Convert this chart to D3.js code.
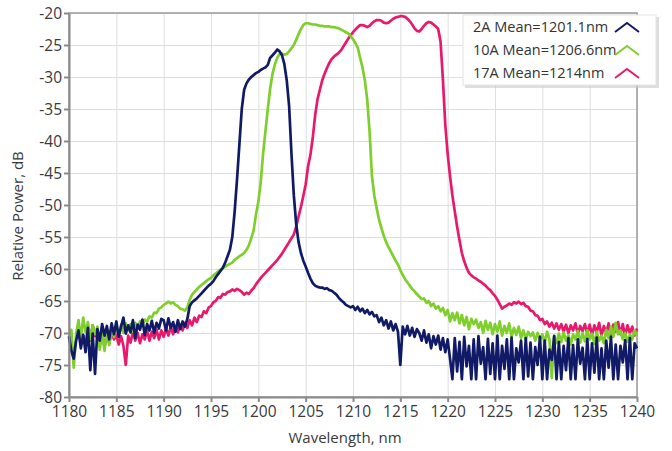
<!DOCTYPE html>
<html>
<head>
<meta charset="utf-8">
<script src="https://cdn.jsdelivr.net/npm/d3@7"></script>
<style>
  html, body { margin: 0; padding: 0; background: #fff; overflow: hidden; }
  svg { display: block; font-family: "Open Sans", "Noto Sans", sans-serif; }
  .grid line { stroke: #dedede; stroke-width: 1; }
  .grid .domain { display: none; }
  .axis .domain, .axis line { stroke: #8a8a8a; stroke-width: 2; }
  .axis text { fill: #3a3a3a; font-size: 15.5px; font-family: "Open Sans", "Noto Sans", sans-serif; }
  .axis-title { fill: #3a3a3a; font-size: 15px; }
  .legend text { fill: #333; font-size: 14.5px; }
</style>
</head>
<body>
<div id="chart"></div>
<script>
// sampled every 0.25 nm from 1180 nm
const START_NM = 1180;
const STEP_NM = 0.25;

const xTicks = [1180, 1185, 1190, 1195, 1200, 1205, 1210, 1215, 1220, 1225, 1230, 1235, 1240];
const yTicks = [-20, -25, -30, -35, -40, -45, -50, -55, -60, -65, -70, -75, -80];

const seriesNames = ["2A Mean=1201.1nm", "10A Mean=1206.6nm", "17A Mean=1214nm"];
const seriesColors = ["#111a66", "#7fcf2c", "#e8196c"];

const power2A = [
  -70.5, -72.8, -74.0, -71.2, -69.6, -72.4, -70.3, -73.0, -69.2, -75.8, -70.1, -76.4, -69.4, -71.2, -68.6, -70.4, -68.9, -71.0, -68.5, -70.2,
  -68.2, -70.6, -69.0, -67.6, -70.1, -68.8, -69.9, -68.0, -70.8, -68.7, -69.5, -67.9, -70.3, -68.6, -69.6, -68.1, -70.0, -68.4, -69.3, -67.8,
  -68.0, -69.6, -67.7, -69.2, -68.3, -69.8, -68.0, -69.4, -68.2, -69.0, -67.8, -65.8, -65.2, -64.9, -64.6, -64.2, -63.8, -63.4, -63.0, -62.6,
  -62.3, -61.9, -61.3, -60.8, -60.3, -59.8, -59.0, -58.0, -57.0, -55.0, -51.0, -46.0, -40.5, -35.0, -32.0, -31.0, -30.4, -30.0, -29.7, -29.4,
  -29.2, -28.9, -28.7, -28.5, -28.1, -27.0, -26.6, -26.2, -25.7, -26.0, -26.6, -28.0, -30.5, -34.5, -42.0, -48.5, -53.0, -55.8, -57.5, -58.7,
  -59.6, -60.6, -61.5, -62.2, -62.6, -62.8, -62.9, -62.9, -63.1, -63.0, -63.3, -63.4, -63.7, -64.0, -64.5, -64.9, -65.2, -65.6, -65.8, -66.0,
  -65.8, -66.4, -65.9, -66.6, -66.2, -66.9, -66.4, -67.1, -66.7, -67.4, -67.2, -68.3, -67.6, -68.8, -68.0, -69.3, -68.2, -69.6, -68.6, -69.8,
  -75.0, -69.0, -70.2, -68.9, -70.4, -69.2, -70.6, -69.4, -70.0, -71.2, -69.6, -71.5, -70.2, -72.4, -70.5, -71.8, -70.4, -72.6, -70.8, -73.0,
  -71.0, -74.0, -77.2, -70.8, -76.0, -71.4, -77.2, -70.6, -75.2, -72.0, -77.2, -71.0, -77.2, -70.5, -74.8, -72.2, -77.2, -70.9, -76.4, -71.6,
  -77.2, -70.4, -77.2, -72.0, -75.6, -71.0, -77.2, -70.7, -77.2, -72.4, -74.6, -71.2, -77.2, -70.8, -76.8, -71.5, -77.2, -72.2, -75.0, -70.6,
  -77.2, -71.2, -77.2, -72.6, -74.2, -70.5, -77.2, -71.4, -77.2, -72.0, -75.8, -70.8, -77.2, -71.9, -77.2, -71.0, -74.8, -72.3, -77.2, -70.9,
  -77.2, -71.6, -76.2, -70.7, -77.2, -72.4, -77.2, -71.2, -75.4, -70.6, -77.2, -71.8, -77.2, -72.0, -74.6, -71.1, -77.2, -70.8, -77.2, -71.6,
  -72.4
];

const power10A = [
  -71.0, -69.5, -75.4, -70.2, -68.0, -70.8, -67.6, -69.9, -68.3, -71.0, -68.8, -70.2, -69.0, -72.6, -70.0, -72.8, -69.6, -71.9, -69.2, -70.6,
  -69.0, -70.4, -68.7, -70.0, -68.5, -69.6, -68.6, -69.8, -68.4, -69.3, -68.2, -68.9, -67.9, -68.2, -67.4, -67.6, -66.8, -66.9, -66.2, -66.0,
  -65.6, -65.4, -65.1, -65.4, -65.2, -65.6, -65.8, -66.2, -66.3, -66.5, -66.0, -64.8, -64.0, -63.6, -63.2, -62.8, -62.5, -62.2, -61.9, -61.6,
  -61.4, -61.0, -60.7, -60.4, -60.1, -59.9, -59.6, -59.4, -59.2, -59.0, -58.6, -58.3, -58.0, -57.8, -57.5, -57.0, -56.3, -55.2, -54.0, -51.5,
  -49.5, -46.5, -42.0, -38.5, -35.0, -31.8, -29.5, -28.0, -27.0, -26.4, -26.3, -26.5, -26.4, -26.0, -25.5, -25.0, -24.2, -23.3, -22.5, -21.9,
  -21.6, -21.6, -21.7, -21.8, -21.8, -21.9, -22.0, -22.0, -22.1, -22.1, -22.1, -22.2, -22.2, -22.3, -22.4, -22.6, -22.8, -23.0, -23.2, -23.6,
  -24.1, -24.7, -25.4, -27.0, -28.5, -30.5, -33.5, -38.5, -45.5, -48.5, -50.5, -52.3, -53.6, -54.8, -55.8, -56.6, -57.3, -58.0, -58.7, -59.3,
  -60.2, -60.9, -61.6, -62.1, -62.6, -63.1, -63.5, -63.9, -64.3, -64.7, -64.6, -65.3, -65.0, -65.8, -65.4, -66.2, -65.8, -66.6, -66.1, -67.2,
  -66.4, -68.2, -66.9, -68.0, -66.8, -68.5, -67.2, -68.8, -67.5, -69.4, -67.8, -68.6, -67.9, -69.2, -68.3, -70.0, -68.1, -69.5, -68.4, -70.2,
  -68.6, -69.8, -68.2, -70.4, -68.9, -70.0, -68.5, -70.6, -69.2, -70.3, -69.0, -70.8, -69.6, -71.0, -69.8, -70.5, -69.9, -71.2, -70.0, -71.0,
  -70.2, -71.5, -69.8, -71.0, -77.0, -70.4, -71.6, -70.1, -71.4, -69.9, -71.2, -70.3, -71.8, -70.2, -71.0, -69.7, -71.5, -70.0, -71.3, -69.6,
  -71.0, -70.1, -71.7, -69.8, -71.2, -70.4, -71.6, -69.5, -70.8, -69.0, -70.6, -68.4, -70.2, -69.6, -71.0, -70.0, -71.4, -70.2, -71.0, -69.6,
  -70.4
];

const power17A = [
  null, null, null, null, null, null, -70.4, -72.0, -69.0, -71.2, -68.8, -70.5, -69.5, -71.8, -70.0, -72.2, -70.2, -71.6, -69.8, -71.0,
  -70.3, -71.8, -70.5, -72.0, -75.0, -70.4, -71.5, -69.8, -71.2, -70.0, -71.6, -70.2, -71.0, -69.6, -71.2, -69.8, -70.8, -69.5, -71.0, -69.6,
  -70.6, -69.3, -70.4, -69.0, -70.2, -68.9, -69.9, -68.7, -69.6, -68.4, -69.2, -68.0, -68.8, -67.6, -68.3, -67.3, -67.5, -66.6, -66.9, -66.0,
  -65.8, -65.2, -65.0, -64.4, -64.5, -63.9, -64.0, -63.6, -63.5, -63.2, -63.4, -63.1, -63.3, -63.6, -64.0, -63.7, -63.9, -63.4, -63.0, -62.4,
  -61.9, -61.4, -61.0, -60.6, -60.2, -59.8, -59.4, -59.0, -58.6, -58.1, -57.6, -57.0, -56.4, -55.8, -55.2, -54.6, -53.4, -51.8, -50.3, -48.6,
  -46.8, -44.0, -42.2, -39.5, -36.0, -33.5, -32.0, -30.5, -29.5, -28.6, -27.8, -27.2, -26.8, -26.5, -26.2, -25.8, -25.2, -24.6, -24.0, -23.5,
  -23.0, -22.6, -22.2, -21.9, -21.9, -22.0, -22.2, -22.0, -21.6, -21.3, -21.1, -21.1, -21.2, -21.5, -21.6, -21.5, -21.2, -20.9, -20.7, -20.6,
  -20.5, -20.5, -20.6, -20.9, -21.3, -21.8, -22.4, -22.8, -22.9, -22.5, -22.0, -21.6, -21.4, -21.5, -21.8, -22.1, -22.5, -24.5, -30.5, -37.5,
  -42.0, -45.5, -48.5, -51.0, -53.4, -55.5, -57.5, -58.8, -59.8, -60.6, -61.0, -61.3, -61.5, -61.8, -62.0, -62.3, -62.6, -63.0, -63.3, -63.8,
  -64.2, -64.8, -65.5, -66.2, -65.9, -65.7, -65.4, -65.6, -65.2, -65.4, -65.1, -65.5, -65.3, -65.8, -65.9, -66.5, -66.6, -67.2, -67.3, -68.0,
  -67.8, -68.6, -68.2, -69.0, -68.4, -69.3, -68.5, -69.5, -68.6, -69.8, -68.7, -70.0, -68.8, -69.6, -68.5, -70.2, -68.9, -69.7, -68.6, -70.1,
  -68.7, -70.3, -68.8, -69.9, -68.4, -70.4, -68.9, -70.0, -68.5, -70.6, -68.7, -69.8, -68.3, -70.2, -68.6, -70.5, -68.8, -70.0, -69.0, -70.4,
  -69.3
];

const width = 672;
const height = 451;
const margin = { top: 13, right: 35, bottom: 54, left: 69 };

const svg = d3.select("#chart").append("svg")
  .attr("width", width)
  .attr("height", height);

const x = d3.scaleLinear().domain([1180, 1240]).range([margin.left, width - margin.right]);
const y = d3.scaleLinear().domain([-80, -20]).range([height - margin.bottom, margin.top]);
const innerWidth = width - margin.left - margin.right;
const innerHeight = height - margin.top - margin.bottom;

// grid
const gridX = svg.append("g")
  .attr("class", "grid")
  .attr("transform", `translate(0,${height - margin.bottom})`)
  .call(d3.axisBottom(x).tickValues(xTicks).tickSize(-innerHeight).tickFormat(""));
const gridY = svg.append("g")
  .attr("class", "grid")
  .attr("transform", `translate(${margin.left},0)`)
  .call(d3.axisLeft(y).tickValues(yTicks).tickSize(-innerWidth).tickFormat(""));
gridX.selectAll("text").remove();
gridY.selectAll("text").remove();

// frame top/right
svg.append("rect")
  .attr("x", margin.left)
  .attr("y", margin.top)
  .attr("width", innerWidth)
  .attr("height", innerHeight)
  .attr("fill", "none")
  .attr("stroke", "#9a9a9a")
  .attr("stroke-width", 1.5);

const lineLayer = svg.append("g");
const allSeries = [power17A, power10A, power2A];
const colorsInOrder = [seriesColors[2], seriesColors[1], seriesColors[0]];

const line = d3.line()
  .defined((d) => d != null)
  .x((d, i) => x(START_NM + i * STEP_NM))
  .y((d) => y(d));

lineLayer.selectAll("path")
  .data(allSeries)
  .join("path")
  .attr("fill", "none")
  .attr("stroke", (d, i) => colorsInOrder[i])
  .attr("stroke-width", 2.7)
  .attr("stroke-linejoin", "round")
  .attr("d", line);

// axes
svg.append("g")
  .attr("class", "axis")
  .attr("transform", `translate(0,${height - margin.bottom})`)
  .call(d3.axisBottom(x).tickValues(xTicks).tickSize(5).tickSizeOuter(0).tickPadding(4).tickFormat(d3.format("d")));

const yAxis = svg.append("g")
  .attr("class", "axis")
  .attr("transform", `translate(${margin.left},0)`)
  .call(d3.axisLeft(y).tickValues(yTicks).tickSize(5).tickSizeOuter(0).tickPadding(2).tickFormat((d) => d));
yAxis.selectAll("text").attr("dy", "0.36em");

svg.append("text")
  .attr("class", "axis-title")
  .attr("text-anchor", "middle")
  .attr("transform", "translate(23,216) rotate(-90)")
  .text("Relative Power, dB");

svg.append("text")
  .attr("class", "axis-title")
  .attr("text-anchor", "middle")
  .attr("x", 345)
  .attr("y", 443)
  .text("Wavelength, nm");

// legend
const legend = svg.append("g").attr("class", "legend").attr("transform", "translate(463,15)");
legend.append("rect")
  .attr("x", 2).attr("y", 2).attr("width", 194).attr("height", 71)
  .attr("fill", "#c8c8c8").attr("opacity", 0.6);
legend.append("rect")
  .attr("width", 193).attr("height", 70)
  .attr("fill", "#fff").attr("stroke", "#e4e4e4");

const rows = legend.selectAll(".row")
  .data(seriesNames)
  .join("g")
  .attr("class", "row")
  .attr("transform", (d, i) => `translate(0,${17 + i * 23})`);
rows.append("text").attr("x", 10).attr("y", 0).text((d) => d);
rows.append("path")
  .attr("d", "M152,0 L164,-9 L176,0")
  .attr("fill", "none")
  .attr("stroke", (d, i) => seriesColors[i])
  .attr("stroke-width", 2);
</script>
</body>
</html>
